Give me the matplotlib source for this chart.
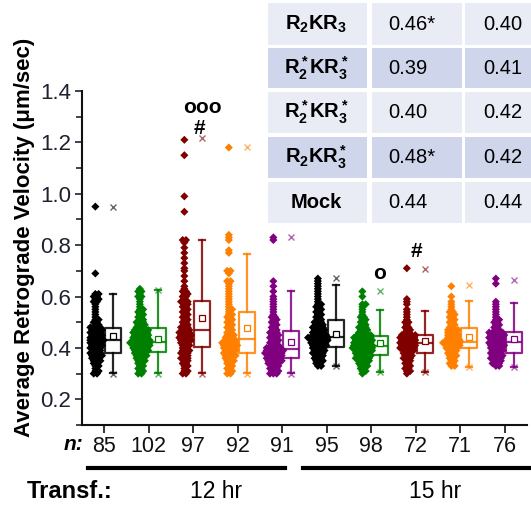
import numpy as np
import matplotlib
matplotlib.use("Agg")
import matplotlib.pyplot as plt
from matplotlib.patches import Rectangle
from matplotlib.lines import Line2D
from matplotlib.ticker import MultipleLocator

plt.rcParams["font.family"] = ["Liberation Sans", "DejaVu Sans"]
plt.rcParams["mathtext.fontset"] = "custom"
plt.rcParams["mathtext.rm"] = "Liberation Sans"
plt.rcParams["mathtext.bf"] = "Liberation Sans:bold"
plt.rcParams["mathtext.it"] = "Liberation Sans:italic"

# colours per group (12 hr then 15 hr)
colors = ["#000000", "#008000", "#800000", "#ff8000", "#800080"] * 2
n_labels = [85, 102, 97, 92, 91, 95, 98, 72, 71, 76]

# individual velocities (um/sec)
g1 = [0.30, 0.30, 0.31, 0.31, 0.32, 0.33, 0.33, 0.34, 0.34, 0.35, 0.35, 0.35, 0.36, 0.36, 0.36, 0.37, 0.37, 0.37, 0.37, 0.38, 0.38,
      0.38, 0.38, 0.39, 0.39, 0.39, 0.40, 0.40, 0.40, 0.40, 0.41, 0.41, 0.41, 0.41, 0.42, 0.42, 0.42, 0.42, 0.43, 0.43, 0.43, 0.43,
      0.43, 0.44, 0.44, 0.44, 0.44, 0.45, 0.45, 0.45, 0.45, 0.46, 0.46, 0.46, 0.46, 0.47, 0.47, 0.47, 0.47, 0.48, 0.48, 0.48, 0.48,
      0.49, 0.49, 0.50, 0.50, 0.51, 0.51, 0.52, 0.53, 0.54, 0.55, 0.56, 0.57, 0.58, 0.58, 0.59, 0.59, 0.60, 0.60, 0.61, 0.61, 0.69, 0.95]
g2 = [0.30, 0.30, 0.31, 0.31, 0.32, 0.32, 0.33, 0.33, 0.34, 0.34, 0.35, 0.35, 0.35, 0.36, 0.36, 0.36, 0.37, 0.37, 0.37, 0.37, 0.38, 0.38, 0.38, 0.38, 0.39,
      0.39, 0.39, 0.39, 0.39, 0.40, 0.40, 0.40, 0.40, 0.40, 0.41, 0.41, 0.41, 0.41, 0.41, 0.41, 0.42, 0.42, 0.42, 0.42, 0.42, 0.42, 0.42, 0.43, 0.43, 0.43, 0.43,
      0.43, 0.43, 0.44, 0.44, 0.44, 0.44, 0.44, 0.45, 0.45, 0.45, 0.45, 0.45, 0.46, 0.46, 0.46, 0.46, 0.46, 0.47, 0.47, 0.47, 0.47, 0.47, 0.48, 0.48, 0.48,
      0.49, 0.49, 0.49, 0.50, 0.50, 0.50, 0.51, 0.51, 0.52, 0.52, 0.53, 0.53, 0.54, 0.54, 0.55, 0.55, 0.56, 0.57, 0.58, 0.59, 0.60, 0.60, 0.61, 0.62, 0.62, 0.63]
g3 = [0.30, 0.30, 0.31, 0.31, 0.32, 0.33, 0.33, 0.34, 0.34, 0.35, 0.35, 0.36, 0.36, 0.36, 0.37, 0.37, 0.38, 0.38, 0.38, 0.39, 0.39, 0.39, 0.40, 0.40,
      0.41, 0.41, 0.41, 0.42, 0.42, 0.42, 0.43, 0.43, 0.43, 0.43, 0.44, 0.44, 0.44, 0.44, 0.45, 0.45, 0.45, 0.45, 0.46, 0.46, 0.46, 0.46, 0.47, 0.47,
      0.47, 0.48, 0.48, 0.48, 0.49, 0.49, 0.50, 0.50, 0.51, 0.51, 0.52, 0.52, 0.53, 0.53, 0.54, 0.54, 0.55, 0.55, 0.56, 0.56, 0.57, 0.57, 0.58, 0.58, 0.58,
      0.59, 0.60, 0.60, 0.61, 0.61, 0.62, 0.62, 0.63, 0.64, 0.66, 0.68, 0.70, 0.71, 0.73, 0.75, 0.77, 0.79, 0.81, 0.82, 0.82, 0.93, 0.99, 1.15, 1.21]
g4 = [0.30, 0.30, 0.31, 0.31, 0.32, 0.32, 0.33, 0.33, 0.34, 0.34, 0.35, 0.35, 0.35, 0.36, 0.36, 0.36, 0.37, 0.37, 0.37, 0.37, 0.38, 0.38, 0.38,
      0.38, 0.39, 0.39, 0.39, 0.39, 0.40, 0.40, 0.40, 0.40, 0.41, 0.41, 0.41, 0.41, 0.41, 0.42, 0.42, 0.42, 0.42, 0.42, 0.43, 0.43, 0.43, 0.43,
      0.44, 0.44, 0.44, 0.45, 0.45, 0.45, 0.46, 0.46, 0.47, 0.47, 0.48, 0.48, 0.49, 0.49, 0.50, 0.50, 0.51, 0.51, 0.52, 0.52, 0.53, 0.53, 0.54,
      0.55, 0.55, 0.56, 0.57, 0.58, 0.59, 0.60, 0.61, 0.62, 0.63, 0.64, 0.65, 0.66, 0.66, 0.69, 0.70, 0.70, 0.77, 0.78, 0.82, 0.83, 0.84, 1.18]
g5 = [0.30, 0.30, 0.30, 0.31, 0.31, 0.31, 0.32, 0.32, 0.32, 0.33, 0.33, 0.33, 0.34, 0.34, 0.34, 0.34, 0.35, 0.35, 0.35, 0.35, 0.35, 0.36, 0.36,
      0.36, 0.36, 0.36, 0.37, 0.37, 0.37, 0.37, 0.37, 0.38, 0.38, 0.38, 0.38, 0.38, 0.38, 0.39, 0.39, 0.39, 0.39, 0.39, 0.39, 0.40, 0.40, 0.40,
      0.40, 0.40, 0.41, 0.41, 0.41, 0.42, 0.42, 0.42, 0.43, 0.43, 0.43, 0.44, 0.44, 0.44, 0.45, 0.45, 0.45, 0.46, 0.46, 0.46, 0.47, 0.47,
      0.48, 0.48, 0.49, 0.49, 0.50, 0.50, 0.51, 0.51, 0.52, 0.52, 0.53, 0.54, 0.55, 0.56, 0.57, 0.58, 0.59, 0.60, 0.62, 0.64, 0.66, 0.82, 0.83]
g6 = [0.33, 0.33, 0.34, 0.34, 0.35, 0.35, 0.35, 0.36, 0.36, 0.36, 0.37, 0.37, 0.37, 0.38, 0.38, 0.38, 0.38, 0.39, 0.39, 0.39, 0.39, 0.40, 0.40, 0.40,
      0.40, 0.41, 0.41, 0.41, 0.41, 0.41, 0.42, 0.42, 0.42, 0.42, 0.42, 0.43, 0.43, 0.43, 0.43, 0.43, 0.43, 0.44, 0.44, 0.44, 0.44, 0.44, 0.44, 0.44,
      0.45, 0.45, 0.45, 0.45, 0.45, 0.46, 0.46, 0.46, 0.46, 0.47, 0.47, 0.47, 0.47, 0.48, 0.48, 0.48, 0.48, 0.49, 0.49, 0.49, 0.50, 0.50, 0.50, 0.51,
      0.51, 0.52, 0.52, 0.53, 0.53, 0.54, 0.54, 0.55, 0.55, 0.56, 0.56, 0.57, 0.57, 0.58, 0.59, 0.60, 0.61, 0.62, 0.63, 0.64, 0.65, 0.66, 0.67]
g7 = [0.30, 0.31, 0.31, 0.32, 0.32, 0.33, 0.33, 0.33, 0.34, 0.34, 0.34, 0.35, 0.35, 0.35, 0.35, 0.36, 0.36, 0.36, 0.36, 0.36, 0.37, 0.37, 0.37, 0.37,
      0.37, 0.38, 0.38, 0.38, 0.38, 0.38, 0.39, 0.39, 0.39, 0.39, 0.39, 0.39, 0.40, 0.40, 0.40, 0.40, 0.40, 0.40, 0.40, 0.41, 0.41, 0.41, 0.41, 0.41, 0.41,
      0.41, 0.42, 0.42, 0.42, 0.42, 0.42, 0.42, 0.43, 0.43, 0.43, 0.43, 0.43, 0.43, 0.44, 0.44, 0.44, 0.44, 0.44, 0.44, 0.45, 0.45, 0.45, 0.45, 0.45,
      0.46, 0.46, 0.46, 0.47, 0.47, 0.47, 0.48, 0.48, 0.48, 0.49, 0.49, 0.50, 0.50, 0.51, 0.51, 0.52, 0.52, 0.53, 0.54, 0.55, 0.56, 0.57, 0.57, 0.60, 0.62]
g8 = [0.30, 0.31, 0.31, 0.32, 0.32, 0.33, 0.33, 0.34, 0.34, 0.35, 0.35, 0.36, 0.36, 0.36, 0.37, 0.37, 0.37, 0.38,
      0.38, 0.38, 0.39, 0.39, 0.39, 0.39, 0.40, 0.40, 0.40, 0.40, 0.40, 0.41, 0.41, 0.41, 0.41, 0.41, 0.42, 0.42,
      0.42, 0.42, 0.42, 0.43, 0.43, 0.43, 0.43, 0.43, 0.44, 0.44, 0.44, 0.44, 0.44, 0.45, 0.45, 0.45, 0.45, 0.45,
      0.46, 0.46, 0.47, 0.47, 0.48, 0.48, 0.49, 0.50, 0.50, 0.51, 0.52, 0.53, 0.54, 0.55, 0.57, 0.58, 0.59, 0.71]
g9 = [0.33, 0.33, 0.34, 0.34, 0.35, 0.35, 0.36, 0.36, 0.37, 0.37, 0.37, 0.38, 0.38, 0.38, 0.39, 0.39, 0.39, 0.40,
      0.40, 0.40, 0.40, 0.41, 0.41, 0.41, 0.41, 0.41, 0.42, 0.42, 0.42, 0.42, 0.42, 0.42, 0.43, 0.43, 0.43,
      0.43, 0.43, 0.44, 0.44, 0.44, 0.45, 0.45, 0.45, 0.45, 0.46, 0.46, 0.46, 0.47, 0.47, 0.47, 0.47, 0.48, 0.48,
      0.49, 0.49, 0.50, 0.50, 0.51, 0.51, 0.52, 0.52, 0.53, 0.53, 0.54, 0.54, 0.55, 0.56, 0.57, 0.58, 0.60, 0.64]
g10 = [0.33, 0.33, 0.34, 0.34, 0.34, 0.35, 0.35, 0.35, 0.36, 0.36, 0.36, 0.36, 0.37, 0.37, 0.37, 0.37, 0.38, 0.38, 0.38,
       0.38, 0.39, 0.39, 0.39, 0.39, 0.40, 0.40, 0.40, 0.40, 0.41, 0.41, 0.41, 0.41, 0.41, 0.42, 0.42, 0.42, 0.42, 0.42,
       0.43, 0.43, 0.43, 0.43, 0.44, 0.44, 0.44, 0.44, 0.44, 0.45, 0.45, 0.45, 0.45, 0.45, 0.46, 0.46, 0.46, 0.46, 0.46,
       0.47, 0.47, 0.48, 0.48, 0.49, 0.49, 0.50, 0.50, 0.51, 0.51, 0.52, 0.53, 0.54, 0.55, 0.56, 0.57, 0.58, 0.65, 0.67]
groups = [g1, g2, g3, g4, g5, g6, g7, g8, g9, g10]

# box statistics as drawn in the figure
q1 = [0.381, 0.386, 0.404, 0.382, 0.361, 0.403, 0.374, 0.382, 0.400, 0.381]
med = [0.432, 0.425, 0.469, 0.433, 0.397, 0.442, 0.409, 0.418, 0.425, 0.425]
q3 = [0.477, 0.478, 0.581, 0.539, 0.465, 0.507, 0.447, 0.449, 0.479, 0.461]
whislo = [0.303, 0.303, 0.303, 0.303, 0.301, 0.329, 0.305, 0.305, 0.327, 0.327]
whishi = [0.608, 0.626, 0.821, 0.764, 0.620, 0.646, 0.546, 0.543, 0.581, 0.573]
means = [0.447, 0.435, 0.516, 0.479, 0.425, 0.456, 0.418, 0.426, 0.442, 0.434]
mins = [0.300, 0.300, 0.300, 0.300, 0.300, 0.329, 0.305, 0.305, 0.327, 0.327]
maxs = [0.948, 0.626, 1.217, 1.181, 0.831, 0.672, 0.620, 0.707, 0.643, 0.666]

# table of values in the upper right
table_rows = [r"$\mathbf{R_2KR_3}$", r"$\mathbf{R_2^*KR_3^*}$", r"$\mathbf{R_2^*KR_3^*}$",
              r"$\mathbf{R_2KR_3^*}$", "Mock"]
table_12 = ["0.46*", "0.39", "0.40", "0.48*", "0.44"]
table_15 = ["0.40", "0.41", "0.42", "0.42", "0.44"]

W, H = 531, 507
fig = plt.figure(figsize=(W / 100, H / 100), dpi=100)
ax = fig.add_axes([82 / W, 1 - 425 / H, 445 / W, 334 / H])

pos = np.arange(1, 11)
scatter_off = -0.2
box_off = 0.2


def swarm_offsets(vals, dx=0.075, cap=0.22):
    # spread points sharing a value bin side by side, staggering odd bins
    vals = np.asarray(vals)
    offs = np.zeros(len(vals))
    keys = np.round(vals * 100).astype(int)
    for k in np.unique(keys):
        idx = np.where(keys == k)[0]
        m = len(idx)
        shift = dx / 2 if (k % 2 and m > 1) else 0.0
        offs[idx] = np.clip((np.arange(m) - (m - 1) / 2) * dx + shift, -cap, cap)
    return offs


for i, vals in enumerate(groups):
    c = colors[i]
    x = pos[i] + scatter_off + swarm_offsets(vals)
    ax.scatter(x, vals, s=17, marker="D", color=c, edgecolors="none", zorder=3)

stats = []
for i in range(10):
    stats.append(dict(q1=q1[i], med=med[i], q3=q3[i], whislo=whislo[i],
                      whishi=whishi[i], mean=means[i], fliers=[]))

for i in range(10):
    c = colors[i]
    ax.bxp([stats[i]], positions=[pos[i] + box_off], widths=0.36,
           showmeans=True, showfliers=False, manage_ticks=False,
           boxprops=dict(color=c, lw=1.6, alpha=0.85),
           medianprops=dict(color=c, lw=1.6, alpha=0.85),
           whiskerprops=dict(color=c, lw=1.6, alpha=0.85),
           capprops=dict(color=c, lw=1.6, alpha=0.85),
           capwidths=0.14,
           meanprops=dict(marker="s", markersize=4, markerfacecolor="white",
                          markeredgecolor=c, markeredgewidth=0.9))
    ax.plot([pos[i] + box_off] * 2, [mins[i], maxs[i]], ls="none", marker="x",
            ms=4, mew=1.0, color=c, alpha=0.6, zorder=4)

ax.set_xlim(0.5, 10.5)
ax.set_ylim(0.1, 1.4)
ax.yaxis.set_minor_locator(MultipleLocator(0.1))
ax.set_yticks([0.2, 0.4, 0.6, 0.8, 1.0, 1.2, 1.4])
ax.set_yticklabels(["0.2", "0.4", "0.6", "0.8", "1.0", "1.2", "1.4"])
ax.set_xticks(pos)
ax.set_xticklabels([str(n) for n in n_labels])
ax.tick_params(axis="y", labelsize=16, width=1.2, length=5, colors="#1e2230", pad=3)
ax.tick_params(axis="y", which="minor", width=1.2, length=4, colors="#1e2230")
ax.tick_params(axis="x", labelsize=15.5, width=1.2, length=6, colors="#111", pad=2)
for s in ["top", "right"]:
    ax.spines[s].set_visible(False)
for s in ["left", "bottom"]:
    ax.spines[s].set_linewidth(1.5)
    ax.spines[s].set_color("#111")

# significance marks
ax.text(3.2, 1.335, "ooo", ha="center", va="center", fontsize=15, fontweight="bold")
ax.text(3.13, 1.255, "#", ha="center", va="center", fontsize=15, fontweight="bold")
ax.text(7.18, 0.69, "o", ha="center", va="center", fontsize=15, fontweight="bold")
ax.text(8.02, 0.777, "#", ha="center", va="center", fontsize=15, fontweight="bold")

fig.text(25 / W, 1 - 237 / H, "Average Retrograde Velocity (\u03bcm/sec)", rotation=90,
         ha="center", va="center", fontsize=16, fontweight="bold")

# labels below the axis
fig.text(83 / W, 1 - 445 / H, "n:", ha="right", va="center", fontsize=15,
         fontweight="bold", fontstyle="italic")
fig.add_artist(Line2D([88 / W, 285 / W], [1 - 468 / H] * 2, lw=3, color="black"))
fig.add_artist(Line2D([303 / W, 1.0], [1 - 468 / H] * 2, lw=3, color="black"))
fig.text(27 / W, 1 - 491 / H, "Transf.:", ha="left", va="center", fontsize=17, fontweight="bold")
fig.text(216 / W, 1 - 491 / H, "12 hr", ha="center", va="center", fontsize=16.5)
fig.text(435 / W, 1 - 491 / H, "15 hr", ha="center", va="center", fontsize=16.5)

# table overlay
tax = fig.add_axes([268 / W, 1 - 224 / H, (W - 268) / W, 222 / H])
tax.set_xlim(268, W)
tax.set_ylim(224, 2)
tax.axis("off")
col_edges = [(268, 367), (372, 462), (465, W + 5)]
row_tops = [3, 48, 92, 137, 182]
row_h = [42, 40, 41, 41, 41]
fills = ["#e9ebf5", "#cfd5ea", "#e9ebf5", "#cfd5ea", "#e9ebf5"]
for r in range(5):
    for (x0, x1) in col_edges:
        tax.add_patch(Rectangle((x0, row_tops[r]), x1 - x0, row_h[r],
                                facecolor=fills[r], edgecolor="none"))
    yc = row_tops[r] + row_h[r] / 2
    tax.text(316, yc, table_rows[r], ha="center", va="center", fontsize=14.5,
             fontweight="bold")
    tax.text(388, yc, table_12[r], ha="left", va="center", fontsize=14.5)
    tax.text(483, yc, table_15[r], ha="left", va="center", fontsize=14.5)

fig.savefig("out.png", dpi=100)
